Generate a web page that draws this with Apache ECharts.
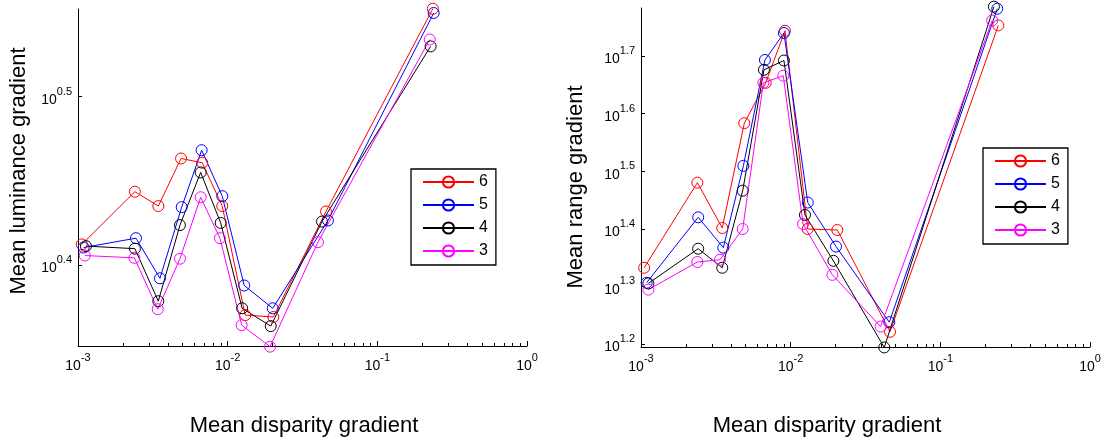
<!DOCTYPE html>
<html>
<head>
<meta charset="utf-8">
<script src="https://cdn.jsdelivr.net/npm/echarts@6/dist/echarts.min.js"></script>
<style>
  html, body { margin: 0; padding: 0; background: #fff; }
  #chart { width: 1109px; height: 442px; }
</style>
</head>
<body>
<div id="chart"></div>
<script>
// series names (legend order)
const names = ['6', '5', '4', '3'];

// left panel: mean disparity gradient vs mean luminance gradient
const lumDisp6 = [0.00106, 0.00240, 0.00344, 0.00488, 0.00676, 0.00920, 0.0131, 0.0202, 0.0454, 0.235];
const lum6 = [2.584, 2.777, 2.723, 2.906, 2.889, 2.723, 2.346, 2.340, 2.703, 3.566];
const lumDisp5 = [0.00109, 0.00244, 0.00353, 0.00493, 0.00670, 0.00920, 0.0129, 0.0200, 0.0468, 0.238];
const lum5 = [2.573, 2.606, 2.467, 2.719, 2.939, 2.760, 2.443, 2.368, 2.670, 3.545];
const lumDisp4 = [0.00113, 0.00240, 0.00344, 0.00480, 0.00660, 0.00898, 0.0125, 0.0194, 0.0427, 0.227];
const lum4 = [2.578, 2.569, 2.391, 2.653, 2.851, 2.661, 2.368, 2.311, 2.666, 3.387];
const lumDisp3 = [0.00111, 0.00238, 0.00341, 0.00480, 0.00660, 0.00888, 0.0124, 0.0192, 0.0401, 0.224];
const lum3 = [2.545, 2.537, 2.365, 2.534, 2.756, 2.606, 2.314, 2.247, 2.592, 3.419];

// right panel: mean disparity gradient vs mean range gradient
const rngDisp6 = [0.00105, 0.00238, 0.00349, 0.00490, 0.00681, 0.00916, 0.0130, 0.0205, 0.0461, 0.244];
const rng6 = [21.5, 30.2, 25.2, 38.3, 45.0, 55.4, 25.1, 25.0, 16.65, 56.6];
const rngDisp5 = [0.00109, 0.00241, 0.00355, 0.00483, 0.00673, 0.00902, 0.0130, 0.0201, 0.0456, 0.240];
const rng5 = [20.25, 26.3, 23.3, 32.3, 49.3, 54.9, 27.9, 23.4, 17.3, 60.5];
const rngDisp4 = [0.00112, 0.00241, 0.00349, 0.00478, 0.00663, 0.00902, 0.01246, 0.0193, 0.0422, 0.228];
const rng4 = [20.2, 23.2, 21.5, 29.25, 47.4, 49.2, 26.55, 22.1, 15.64, 61.0];
const rngDisp3 = [0.00112, 0.00238, 0.00337, 0.00478, 0.00657, 0.00893, 0.0121, 0.0190, 0.0399, 0.222];
const rng3 = [19.7, 22.0, 22.2, 25.1, 45.0, 46.3, 25.6, 20.9, 17.0, 57.7];

// tick labels (exponents of 10)
const xTickExp = ['-3', '-2', '-1', '0'];
const lumTickExp = ['0.4', '0.5'];
const rngTickExp = ['1.2', '1.3', '1.4', '1.5', '1.6', '1.7'];

const colors = ['#ff0000', '#0000ff', '#000000', '#ff00ff'];
const FONT = 'Liberation Sans, Arial, sans-serif';

const pow10 = e => Math.pow(10, +e);
const majorX = xTickExp.map(pow10);
const minorX = [];
for (let d = -3; d < 0; d++) {
  for (let k = 2; k <= 9; k++) minorX.push(k * Math.pow(10, d));
}

function expLabel(v) {
  const e = +Math.log10(v).toFixed(1);
  return '{b|10}{s|' + e + '}';
}
const labelRich = {
  b: { fontSize: 14, fontFamily: FONT, color: '#000', verticalAlign: 'bottom', padding: [7, 0, 0, 0] },
  s: { fontSize: 11, fontFamily: FONT, color: '#000', verticalAlign: 'top' }
};

function xAxes(grid) {
  return [
    {
      type: 'log', logBase: 10, gridIndex: grid, position: 'bottom', min: 0.001, max: 1,
      axisLine: { lineStyle: { color: '#000', width: 1 } },
      axisTick: { inside: true, length: 5, customValues: majorX, lineStyle: { color: '#000' } },
      axisLabel: { customValues: majorX, margin: 6, formatter: expLabel, rich: labelRich },
      splitLine: { show: false }
    },
    {
      // minor ticks only
      type: 'log', logBase: 10, gridIndex: grid, position: 'bottom', min: 0.001, max: 1,
      axisLine: { show: false },
      axisTick: { inside: true, length: 3, customValues: minorX, lineStyle: { color: '#000' } },
      axisLabel: { show: false },
      splitLine: { show: false }
    }
  ];
}

function yAxis(grid, lo, hi, ticks) {
  const vals = ticks.map(pow10);
  return {
    type: 'log', logBase: 10, gridIndex: grid, min: Math.pow(10, lo), max: Math.pow(10, hi),
    axisLine: { lineStyle: { color: '#000', width: 1 } },
    axisTick: { inside: true, length: 4, customValues: vals, lineStyle: { color: '#000' } },
    axisLabel: { customValues: vals, margin: 6, formatter: expLabel, rich: labelRich },
    splitLine: { show: false }
  };
}

function makeSeries(xs, ys, i, grid) {
  return {
    name: names[i],
    type: 'line',
    xAxisIndex: grid * 2,
    yAxisIndex: grid,
    data: xs.map((x, j) => [x, ys[j]]),
    symbol: 'circle',
    symbolSize: 11,
    clip: false,
    lineStyle: { color: colors[i], width: 1 },
    itemStyle: { color: 'rgba(0,0,0,0)', borderColor: colors[i], borderWidth: 1 },
    emphasis: { disabled: true },
    animation: false
  };
}

function legend(left, top) {
  return {
    data: names,
    orient: 'vertical',
    left: left, top: top,
    itemWidth: 51, itemHeight: 14, itemGap: 7,
    padding: [5, 8, 6, 11],
    borderColor: '#000', borderWidth: 1.3,
    backgroundColor: '#fff',
    selectedMode: false,
    textStyle: { fontSize: 16, fontFamily: FONT, color: '#000' }
  };
}

function title(text, x, y, rot) {
  return {
    type: 'text', x: x, y: y, rotation: rot ? Math.PI / 2 : 0,
    style: { text: text, font: '22px ' + FONT, fill: '#000', textAlign: 'center', textVerticalAlign: 'middle' }
  };
}

const chart = echarts.init(document.getElementById('chart'), null, { renderer: 'canvas' });
chart.setOption({
  animation: false,
  backgroundColor: '#fff',
  grid: [
    { left: 78, top: 9, width: 449, height: 337 },
    { left: 641, top: 8, width: 449, height: 339 }
  ],
  xAxis: [...xAxes(0), ...xAxes(1)],
  yAxis: [
    yAxis(0, 0.352, 0.552, lumTickExp),
    yAxis(1, 1.195, 1.783, rngTickExp)
  ],
  legend: [legend(411, 169), legend(983, 148)],
  series: [
    makeSeries(lumDisp6, lum6, 0, 0),
    makeSeries(lumDisp5, lum5, 1, 0),
    makeSeries(lumDisp4, lum4, 2, 0),
    makeSeries(lumDisp3, lum3, 3, 0),
    makeSeries(rngDisp6, rng6, 0, 1),
    makeSeries(rngDisp5, rng5, 1, 1),
    makeSeries(rngDisp4, rng4, 2, 1),
    makeSeries(rngDisp3, rng3, 3, 1)
  ],
  graphic: [
    title('Mean luminance gradient', 19, 171, true),
    title('Mean disparity gradient', 304, 426, false),
    title('Mean range gradient', 576, 187, true),
    title('Mean disparity gradient', 827, 426, false)
  ]
});
</script>
</body>
</html>
